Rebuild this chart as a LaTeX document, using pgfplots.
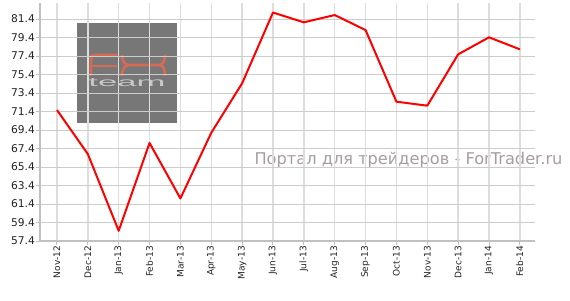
\documentclass[border=0pt]{standalone}
\usepackage{pgfplots}
\pgfplotsset{compat=1.18}
\usepackage{fontspec}
\setmainfont{DejaVu Sans}
\newfontfamily\logofont{Liberation Sans}
\definecolor{gridh}{HTML}{CCCCCC}
\definecolor{gridv}{HTML}{DDDDDD}
\definecolor{axgray}{HTML}{C0C0C0}
\definecolor{wm}{HTML}{A99C9C}
\definecolor{logobox}{HTML}{777777}
\definecolor{logofx}{HTML}{D86A55}
\definecolor{logoteam}{HTML}{C8C8C8}
\definecolor{ticktext}{HTML}{222222}
\begin{document}
\begin{tikzpicture}[x=1pt,y=1pt]
\path[use as bounding box] (-40,-59) rectangle (530,241);
% background decorations (drawn under the grid)
\fill[logobox] (37,118) rectangle (137,218);
\begin{scope}[logofx, line width=2.6pt]
\draw[rounded corners=3pt] (51,165) -- (51,186) -- (77,186);
\draw (51,175) -- (77,175);
\draw (82,186) to[out=-90,in=180] (89,176) -- (119,176) to[out=0,in=-90] (125,186);
\draw (82,165) to[out=90,in=180] (89,176);
\draw (125,165) to[out=90,in=0] (119,176);
\end{scope}
\node[logoteam, inner sep=0pt] at (87,158) {\resizebox{77pt}{8pt}{\logofont team}};
\node[wm, inner sep=0pt] at (368.5,81) {\fontsize{16.2}{19}\selectfont Портал для трейдеров - ForTrader.ru};
\begin{axis}[
  scale only axis,
  width=495pt, height=238pt,
  xmin=-0.55, xmax=15.49,
  ymin=57.4, ymax=83.13,
  axis x line*=bottom, axis y line*=left,
  axis line style={axgray, line width=2pt, -},
  xtick={0,...,15},
  xticklabels={Nov-12,Dec-12,Jan-13,Feb-13,Mar-13,Apr-13,May-13,Jun-13,Jul-13,Aug-13,Sep-13,Oct-13,Nov-13,Dec-13,Jan-14,Feb-14},
  xticklabel style={rotate=90, anchor=east, font=\fontsize{9}{10}\selectfont, text=ticktext, inner sep=1pt},
  ytick={57.4,59.4,...,81.5},
  yticklabel style={font=\fontsize{10.67}{12}\selectfont, text=ticktext, inner sep=1pt},
  yticklabel={\pgfmathprintnumber[fixed,precision=1,fixed zerofill,assume math mode=true]{\tick}},
  tick align=outside,
  major tick length=4pt,
  tick style={axgray, line width=1pt},
  xmajorgrids, ymajorgrids,
  x grid style={gridv, line width=1.5pt},
  y grid style={gridh, line width=1pt},
]
\addplot[red, line width=2pt, line join=round] coordinates {
(0,71.56) (1,66.8) (2,58.5) (3,68.0) (4,62.0) (5,69.1) (6,74.45) (7,82.1)
(8,81.04) (9,81.83) (10,80.2) (11,72.46) (12,72.03) (13,77.58) (14,79.42) (15,78.12)
};
\end{axis}
\end{tikzpicture}
\end{document}
